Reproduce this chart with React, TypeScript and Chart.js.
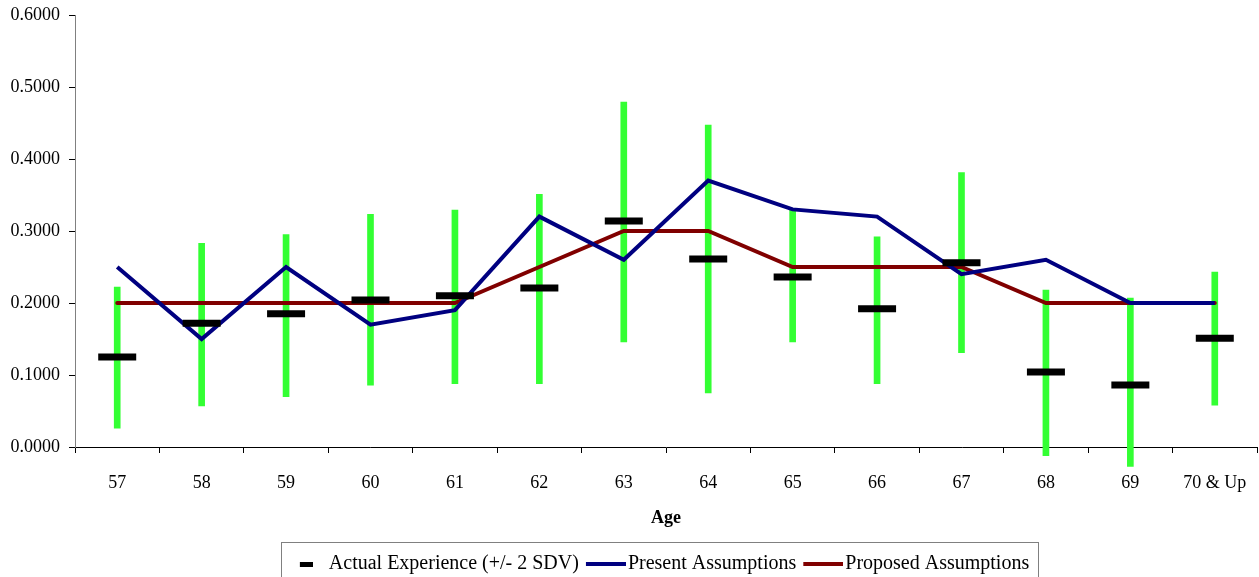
import React, { useEffect, useRef } from 'react';
import { Chart, registerables } from 'chart.js';

Chart.register(...registerables);

const ages = ['57', '58', '59', '60', '61', '62', '63', '64', '65', '66', '67', '68', '69', '70 & Up'];
const actualExperience = [0.125, 0.172, 0.185, 0.204, 0.21, 0.221, 0.314, 0.261, 0.236, 0.192, 0.256, 0.104, 0.086, 0.151];
const lowerBound = [0.026, 0.057, 0.07, 0.086, 0.088, 0.088, 0.146, 0.075, 0.146, 0.088, 0.131, -0.012, -0.027, 0.058];
const upperBound = [0.222, 0.283, 0.295, 0.323, 0.329, 0.351, 0.479, 0.447, 0.329, 0.292, 0.381, 0.218, 0.207, 0.243];
const presentAssumptions = [0.25, 0.15, 0.25, 0.17, 0.19, 0.32, 0.26, 0.37, 0.33, 0.32, 0.24, 0.26, 0.2, 0.2];
const proposedAssumptions = [0.2, 0.2, 0.2, 0.2, 0.2, 0.25, 0.3, 0.3, 0.25, 0.25, 0.25, 0.2, 0.2, 0.2];

const seriesLabels = ['Actual Experience (+/- 2 SDV)', 'Present Assumptions', 'Proposed Assumptions'];

const FONT = '"Liberation Serif", "Times New Roman", serif';

function makeSwatch(totalW: number, h: number, segStart: number, segW: number, color: string) {
  const c = document.createElement('canvas');
  c.width = totalW;
  c.height = h;
  const ctx = c.getContext('2d')!;
  ctx.fillStyle = color;
  ctx.fillRect(segStart, 0, segW, h);
  return c;
}

const legendTweak = {
  id: 'legendTweak',
  afterLayout(chart: any) {
    const lg = chart.legend;
    if (!lg) return;
    lg.left -= 7;
    lg.right -= 7;
  },
  afterDraw(chart: any) {
    const lg = chart.legend;
    if (!lg || !lg.legendHitBoxes || !lg.legendHitBoxes.length) return;
    const hb = lg.legendHitBoxes;
    const first = hb[0];
    const last = hb[hb.length - 1];
    const left = Math.round(first.left - 8) + 0.5;
    const right = Math.round(last.left + last.width + 9) + 0.5;
    const top = Math.round(first.top + first.height / 2 - 22) + 0.5;
    const ctx = chart.ctx;
    ctx.save();
    ctx.strokeStyle = '#808080';
    ctx.lineWidth = 1;
    ctx.strokeRect(left, top, right - left, chart.height + 10 - top);
    ctx.restore();
  },
};

export default function App() {
  const ref = useRef<HTMLCanvasElement | null>(null);

  useEffect(() => {
    if (!ref.current) return;
    const dashSwatch = makeSwatch(18, 5, 5, 13, '#000000');
    const blueSwatch = makeSwatch(46, 4, 6, 40, '#000080');
    const redSwatch = makeSwatch(46, 4, 6, 40, '#800000');
    const swatches = [dashSwatch, blueSwatch, redSwatch];

    const errorBars = lowerBound.map((lo, i) => [lo, upperBound[i]]);

    const chart = new Chart(ref.current, {
      type: 'bar',
      data: {
        labels: ages,
        datasets: [
          {
            type: 'line',
            label: seriesLabels[0],
            data: actualExperience,
            showLine: false,
            pointStyle: 'line',
            pointRadius: 19,
            pointHoverRadius: 19,
            pointBorderWidth: 7,
            pointBorderColor: '#000000',
            borderColor: '#000000',
            backgroundColor: '#000000',
            order: 0,
          } as any,
          {
            type: 'line',
            label: seriesLabels[1],
            data: presentAssumptions,
            borderColor: '#000080',
            backgroundColor: '#000080',
            borderWidth: 4,
            pointRadius: 0,
            tension: 0,
            fill: false,
            order: 1,
          } as any,
          {
            type: 'line',
            label: seriesLabels[2],
            data: proposedAssumptions,
            borderColor: '#800000',
            backgroundColor: '#800000',
            borderWidth: 4,
            borderCapStyle: 'round',
            pointRadius: 0,
            tension: 0,
            fill: false,
            order: 2,
          } as any,
          {
            type: 'bar',
            label: 'Range',
            data: errorBars as any,
            backgroundColor: '#33ff33',
            borderWidth: 0,
            barThickness: 6,
            clip: false,
            order: 3,
          } as any,
        ],
      },
      options: {
        animation: false,
        responsive: true,
        maintainAspectRatio: false,
        events: [],
        layout: { autoPadding: false, padding: { top: 15, right: 2, bottom: -7, left: 0 } },
        font: { family: FONT, size: 18 },
        scales: {
          x: {
            type: 'category',
            offset: true,
            grid: {
              offset: true,
              drawOnChartArea: false,
              drawTicks: true,
              tickLength: 6,
              color: '#000000',
            },
            border: { display: true, color: '#000000', width: 1 },
            ticks: {
              color: '#000000',
              font: { family: FONT, size: 18 },
              padding: 19,
              maxRotation: 0,
              autoSkip: false,
            },
            title: {
              display: true,
              text: 'Age',
              color: '#000000',
              font: { family: FONT, size: 18, weight: 'bold' },
              padding: { top: 0, bottom: 16 },
            },
            afterFit: (scale: any) => {
              scale.height = 98;
              scale.paddingLeft = 0;
              scale.paddingRight = 0;
            },
          },
          y: {
            min: 0,
            max: 0.6,
            grid: {
              drawOnChartArea: false,
              drawTicks: true,
              tickLength: 6,
              color: '#000000',
            },
            border: { display: true, color: '#808080', width: 1 },
            ticks: {
              stepSize: 0.1,
              color: '#000000',
              padding: 9,
              font: { family: FONT, size: 18 },
              callback: (v: any) => Number(v).toFixed(4),
            },
            afterFit: (scale: any) => {
              scale.width = 75;
              scale.paddingTop = 0;
              scale.paddingBottom = 0;
            },
          },
        },
        plugins: {
          tooltip: { enabled: false },
          legend: {
            display: true,
            position: 'bottom',
            fullSize: false,
            labels: {
              usePointStyle: true,
              pointStyleWidth: 30,
              padding: 9,
              color: '#000000',
              font: { family: FONT, size: 20 },
              generateLabels: () =>
                seriesLabels.map((text, i) => ({
                  text,
                  pointStyle: swatches[i] as any,
                  fillStyle: '#000',
                  strokeStyle: '#000',
                  lineWidth: 0,
                  hidden: false,
                  datasetIndex: i,
                  fontColor: '#000000',
                })),
            },
          },
        },
      } as any,
      plugins: [legendTweak],
    });
    return () => chart.destroy();
  }, []);

  return (
    <div style={{ position: 'absolute', left: 0, top: 0, width: 1259, height: 577, background: '#ffffff' }}>
      <canvas ref={ref} />
    </div>
  );
}
